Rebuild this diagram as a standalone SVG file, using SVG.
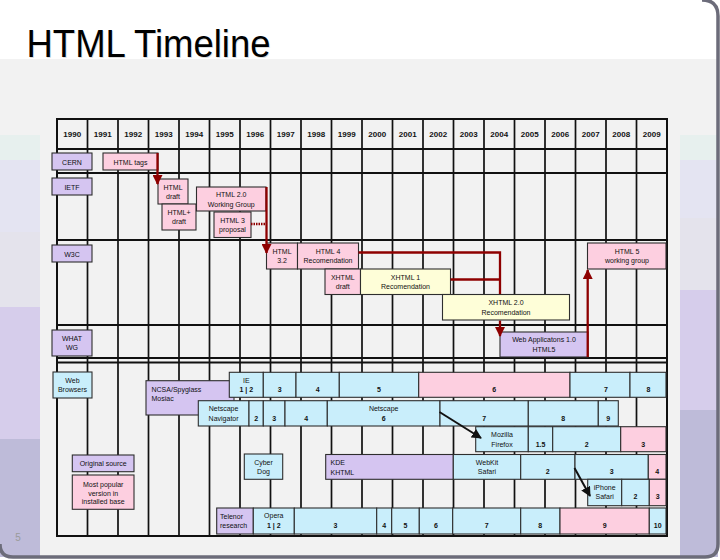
<svg xmlns="http://www.w3.org/2000/svg" width="720" height="560" viewBox="0 0 720 560">
<style>
.t{font-family:"Liberation Sans",Arial,sans-serif;font-size:7px;fill:#111;text-anchor:middle}
.l{text-anchor:start}
.n{font-weight:bold}
.yr{font-family:"Liberation Sans",Arial,sans-serif;font-size:8px;font-weight:bold;fill:#111;text-anchor:middle}
.b{stroke:#2e2e2e;stroke-width:1.1}
.lav{fill:#d5c5f1}
.pnk{fill:#fdcfe0}
.blu{fill:#c9eefb}
.yel{fill:#fefed8}
.red{fill:none;stroke:#8e0000;stroke-width:2.3}
.blk{fill:none;stroke:#111;stroke-width:2}
</style>
<defs>
<marker id="ra" viewBox="0 0 10 10" refX="9" refY="5" markerWidth="10" markerHeight="10" markerUnits="userSpaceOnUse" orient="auto"><path d="M0,0 L10,5 L0,10 z" fill="#8e0000"/></marker>
<marker id="ba" viewBox="0 0 10 10" refX="9" refY="5" markerWidth="10" markerHeight="10" markerUnits="userSpaceOnUse" orient="auto"><path d="M0,0 L10,5 L0,10 z" fill="#111"/></marker>
</defs>
<g id="background">
<rect x="0" y="0" width="720" height="560" fill="#ffffff"/>
<rect x="0" y="59" width="718" height="498" fill="#f2f2f2"/>
<rect x="0" y="135" width="40" height="25" fill="#e7f0ee"/>
<rect x="0" y="160" width="40" height="72" fill="#e4e4f2"/>
<rect x="0" y="232" width="40" height="75" fill="#e4e3ec"/>
<rect x="0" y="307" width="40" height="132" fill="#d6cdeb"/>
<rect x="0" y="439" width="40" height="118" fill="#bebbd9"/>
<rect x="680" y="135" width="38" height="25" fill="#e7f0ee"/>
<rect x="680" y="160" width="38" height="58" fill="#e4e4f2"/>
<rect x="680" y="218" width="38" height="72" fill="#e4e3ec"/>
<rect x="680" y="290" width="38" height="120" fill="#d6cdeb"/>
<rect x="680" y="410" width="38" height="147" fill="#bebbd9"/>
<path d="M702,0 Q718,0 718,16 L718,544 Q718,557 705,557 L13,557 Q0,557 0,544" fill="none" stroke="#6c6c7a" stroke-width="3.5"/>
<text x="18" y="541" font-family="Liberation Sans,Arial,sans-serif" font-size="10" fill="#9a9a9a" text-anchor="middle">5</text>
</g>
<g id="title">
<text x="27.3" y="57.7" font-family="Liberation Sans,Arial,sans-serif" font-size="39" fill="#dcdcdc" textLength="244" lengthAdjust="spacingAndGlyphs">HTML Timeline</text>
<text x="26.5" y="56.7" font-family="Liberation Sans,Arial,sans-serif" font-size="39" fill="#000" textLength="244" lengthAdjust="spacingAndGlyphs">HTML Timeline</text>
</g>
<g id="grid" fill="none" stroke="#111">
<path stroke-width="1.7" d="M87.5,119V536M118,119V536M148.5,119V536M179,119V536M209.5,119V536M240,119V536M270.5,119V536M301,119V536M331.5,119V536M362,119V536M392.5,119V536M423,119V536M453.5,119V536M484,119V536M514.5,119V536M545,119V536M575.5,119V536M606,119V536M636.5,119V536"/>
<path stroke-width="1.8" d="M57,149H667M57,173H667M57,240H667M57,325H667M57,358H667M57,362.5H667"/>
<rect x="57" y="119" width="610" height="417" stroke-width="2"/>
</g>
<g id="years">
<text class="yr" x="72.25" y="137">1990</text><text class="yr" x="102.75" y="137">1991</text><text class="yr" x="133.25" y="137">1992</text><text class="yr" x="163.75" y="137">1993</text><text class="yr" x="194.25" y="137">1994</text><text class="yr" x="224.75" y="137">1995</text><text class="yr" x="255.25" y="137">1996</text><text class="yr" x="285.75" y="137">1997</text><text class="yr" x="316.25" y="137">1998</text><text class="yr" x="346.75" y="137">1999</text><text class="yr" x="377.25" y="137">2000</text><text class="yr" x="407.75" y="137">2001</text><text class="yr" x="438.25" y="137">2002</text><text class="yr" x="468.75" y="137">2003</text><text class="yr" x="499.25" y="137">2004</text><text class="yr" x="529.75" y="137">2005</text><text class="yr" x="560.25" y="137">2006</text><text class="yr" x="590.75" y="137">2007</text><text class="yr" x="621.25" y="137">2008</text><text class="yr" x="651.75" y="137">2009</text>
</g>
<g id="cern"><rect class="b lav" x="52" y="153" width="40" height="17"/><text class="t" x="72" y="164.5">CERN</text></g>
<g id="ietf"><rect class="b lav" x="52" y="178" width="40" height="17"/><text class="t" x="72" y="189.5">IETF</text></g>
<g id="w3c"><rect class="b lav" x="52" y="245" width="40" height="17"/><text class="t" x="72" y="256.5">W3C</text></g>
<g id="whatwg"><rect class="b lav" x="52" y="330" width="40" height="26"/><text class="t" x="72" y="340.5">WHAT</text><text class="t" x="72" y="350">WG</text></g>
<g id="web-browsers"><rect class="b blu" x="53" y="372" width="39" height="26"/><text class="t" x="72.5" y="382.5">Web</text><text class="t" x="72.5" y="392">Browsers</text></g>
<g id="html-tags"><rect class="b pnk" x="103" y="153" width="55" height="17"/><text class="t" x="130.5" y="164.5">HTML tags</text></g>
<g id="html-draft"><rect class="b pnk" x="158" y="179" width="30" height="25"/><text class="t" x="173" y="189.5">HTML</text><text class="t" x="173" y="199">draft</text></g>
<g id="html-plus-draft"><rect class="b pnk" x="162" y="204" width="34" height="26"/><text class="t" x="179" y="214.5">HTML+</text><text class="t" x="179" y="224">draft</text></g>
<g id="html2-wg"><rect class="b pnk" x="196.5" y="187" width="69.5" height="24"/><text class="t" x="231.25" y="197">HTML 2.0</text><text class="t" x="231.25" y="206.5">Working Group</text></g>
<g id="html3-proposal"><rect class="b pnk" x="214" y="212" width="37" height="25.5"/><text class="t" x="232.5" y="222.5">HTML 3</text><text class="t" x="232.5" y="232">proposal</text></g>
<g id="html32"><rect class="b pnk" x="266.5" y="243" width="31" height="26"/><text class="t" x="282" y="253.5">HTML</text><text class="t" x="282" y="263">3.2</text></g>
<g id="html4"><rect class="b pnk" x="297.5" y="243" width="61" height="26"/><text class="t" x="328" y="253.5">HTML 4</text><text class="t" x="328" y="263">Recomendation</text></g>
<g id="xhtml-draft"><rect class="b pnk" x="325" y="269" width="35.5" height="25.5"/><text class="t" x="342.75" y="279.5">XHTML</text><text class="t" x="342.75" y="289">draft</text></g>
<g id="xhtml1"><rect class="b yel" x="360.5" y="269" width="90" height="25.5"/><text class="t" x="405.5" y="279.5">XHTML 1</text><text class="t" x="405.5" y="289">Recomendation</text></g>
<g id="xhtml2"><rect class="b yel" x="442.5" y="294.5" width="127" height="25.5"/><text class="t" x="506" y="305">XHTML 2.0</text><text class="t" x="506" y="314.5">Recomendation</text></g>
<g id="webapps"><rect class="b lav" x="500" y="332" width="88" height="25"/><text class="t" x="544" y="342">Web Applicatons 1.0</text><text class="t" x="544" y="351.5">HTML5</text></g>
<g id="html5-wg"><rect class="b pnk" x="587.5" y="243" width="78.5" height="26"/><text class="t" x="627" y="253.5">HTML 5</text><text class="t" x="627" y="263">working group</text></g>
<g id="ncsa-mosaic"><rect class="b lav" x="146" y="380.7" width="88" height="34.3"/><text class="t l" x="151.5" y="392">NCSA/Spyglass</text><text class="t l" x="151.5" y="401">Mosiac</text></g>
<g id="ie">
<rect class="b blu" x="229.3" y="372.3" width="34" height="25"/><text class="t" x="246.3" y="382.5">IE</text><text class="t n" x="246.3" y="392">1 | 2</text>
<rect class="b blu" x="263.3" y="372.3" width="32.7" height="25"/><text class="t n" x="279.6" y="392">3</text>
<rect class="b blu" x="296" y="372.3" width="43.3" height="25"/><text class="t n" x="317.6" y="392">4</text>
<rect class="b blu" x="339.3" y="372.3" width="79.4" height="25"/><text class="t n" x="379" y="392">5</text>
<rect class="b pnk" x="418.7" y="372.3" width="151.3" height="25"/><text class="t n" x="494.3" y="392">6</text>
<rect class="b blu" x="570" y="372.3" width="60" height="25"/><text class="t n" x="606" y="392">7</text>
<rect class="b blu" x="630" y="372.3" width="36" height="25"/><text class="t n" x="648.5" y="392">8</text>
</g>
<g id="netscape">
<rect class="b blu" x="198.3" y="400.7" width="50.7" height="25.3"/><text class="t" x="223.6" y="411">Netscape</text><text class="t" x="223.6" y="420.5">Navigator</text>
<rect class="b blu" x="249" y="400.7" width="14.3" height="25.3"/><text class="t n" x="256.2" y="420.5">2</text>
<rect class="b blu" x="263.3" y="400.7" width="21.7" height="25.3"/><text class="t n" x="274.2" y="420.5">3</text>
<rect class="b blu" x="285" y="400.7" width="42.3" height="25.3"/><text class="t n" x="306.2" y="420.5">4</text>
<rect class="b blu" x="327.3" y="400.7" width="112.7" height="25.3"/><text class="t" x="383.7" y="411">Netscape</text><text class="t n" x="383.7" y="420.5">6</text>
<rect class="b blu" x="440" y="400.7" width="88.3" height="25.3"/><text class="t n" x="484.2" y="420.5">7</text>
<rect class="b blu" x="528.3" y="400.7" width="70" height="25.3"/><text class="t n" x="563.3" y="420.5">8</text>
<rect class="b blu" x="598.3" y="400.7" width="20" height="25.3"/><text class="t n" x="608.3" y="420.5">9</text>
</g>
<g id="firefox">
<rect class="b blu" x="475.7" y="426.7" width="52.6" height="25"/><text class="t" x="502" y="437">Mozilla</text><text class="t" x="502" y="446.5">Firefox</text>
<rect class="b blu" x="528.3" y="426.7" width="24.4" height="25"/><text class="t n" x="540.5" y="446.5">1.5</text>
<rect class="b blu" x="552.7" y="426.7" width="68" height="25"/><text class="t n" x="586.7" y="446.5">2</text>
<rect class="b pnk" x="620.7" y="426.7" width="45.3" height="25"/><text class="t n" x="643.3" y="446.5">3</text>
</g>
<g id="cyberdog"><rect class="b blu" x="244.3" y="454" width="38.4" height="25.3"/><text class="t" x="263.5" y="464.5">Cyber</text><text class="t" x="263.5" y="474">Dog</text></g>
<g id="kde-khtml"><rect class="b lav" x="325.7" y="454.5" width="127.6" height="24.8"/><text class="t l" x="330.5" y="465">KDE</text><text class="t l" x="330.5" y="474.5">KHTML</text></g>
<g id="safari">
<rect class="b blu" x="453.3" y="454.5" width="67.4" height="24.8"/><text class="t" x="487" y="464.5">WebKit</text><text class="t" x="487" y="474">Safari</text>
<rect class="b blu" x="520.7" y="454.5" width="54.3" height="24.8"/><text class="t n" x="547.8" y="474">2</text>
<rect class="b blu" x="575" y="454.5" width="73.3" height="24.8"/><text class="t n" x="611.6" y="474">3</text>
<rect class="b pnk" x="648.3" y="454.5" width="17.7" height="24.8"/><text class="t n" x="657.2" y="474">4</text>
</g>
<g id="iphone-safari">
<rect class="b blu" x="587.7" y="479.3" width="34" height="26.4"/><text class="t" x="604.7" y="489.5">iPhone</text><text class="t" x="604.7" y="499">Safari</text>
<rect class="b blu" x="621.7" y="479.3" width="27.6" height="26.4"/><text class="t n" x="635.5" y="499">2</text>
<rect class="b pnk" x="649.3" y="479.3" width="16.7" height="26.4"/><text class="t n" x="657.7" y="499">3</text>
</g>
<g id="telenor"><rect class="b lav" x="216.7" y="508" width="36.6" height="26"/><text class="t l" x="220" y="518.5">Telenor</text><text class="t l" x="220" y="527.5">research</text></g>
<g id="opera">
<rect class="b blu" x="253.3" y="508" width="41" height="26"/><text class="t" x="273.8" y="518">Opera</text><text class="t n" x="273.8" y="527.5">1 | 2</text>
<rect class="b blu" x="294.3" y="508" width="82.4" height="26"/><text class="t n" x="335.5" y="527.5">3</text>
<rect class="b blu" x="376.7" y="508" width="15" height="26"/><text class="t n" x="384.2" y="527.5">4</text>
<rect class="b blu" x="391.7" y="508" width="27.6" height="26"/><text class="t n" x="405.5" y="527.5">5</text>
<rect class="b blu" x="419.3" y="508" width="33.4" height="26"/><text class="t n" x="436" y="527.5">6</text>
<rect class="b blu" x="452.7" y="508" width="68" height="26"/><text class="t n" x="486.7" y="527.5">7</text>
<rect class="b blu" x="520.7" y="508" width="39.3" height="26"/><text class="t n" x="540.3" y="527.5">8</text>
<rect class="b pnk" x="560" y="508" width="89.3" height="26"/><text class="t n" x="604.7" y="527.5">9</text>
<rect class="b blu" x="649.3" y="508" width="16.7" height="26"/><text class="t n" x="657.7" y="527.5">10</text>
</g>
<g id="legend-original"><rect class="b lav" x="72.3" y="455" width="61.7" height="16.7"/><text class="t" x="103.2" y="466">Original source</text></g>
<g id="legend-popular"><rect class="b pnk" x="72.3" y="475" width="61.7" height="34.3"/><text class="t" x="103.2" y="487">Most popular</text><text class="t" x="103.2" y="495.5">version in</text><text class="t" x="103.2" y="504">installed base</text></g>
<g id="connectors">
<path class="red" d="M157.5,153V184" marker-end="url(#ra)"/>
<path class="red" d="M266.5,187V253" marker-end="url(#ra)"/>
<path class="red" d="M251,224H266.5" stroke-dasharray="1.5 1"/>
<path class="red" d="M358.5,252.5H500V293.9"/>
<path class="red" d="M500,320.6V336" marker-end="url(#ra)"/>
<path class="red" d="M450.5,279.5H500"/>
<path class="red" d="M587.7,357V270" marker-end="url(#ra)"/>
<path class="blk" d="M439.5,412L481,438" marker-end="url(#ba)"/>
<path class="blk" d="M574.5,468L590,496" marker-end="url(#ba)"/>
</g>
</svg>
